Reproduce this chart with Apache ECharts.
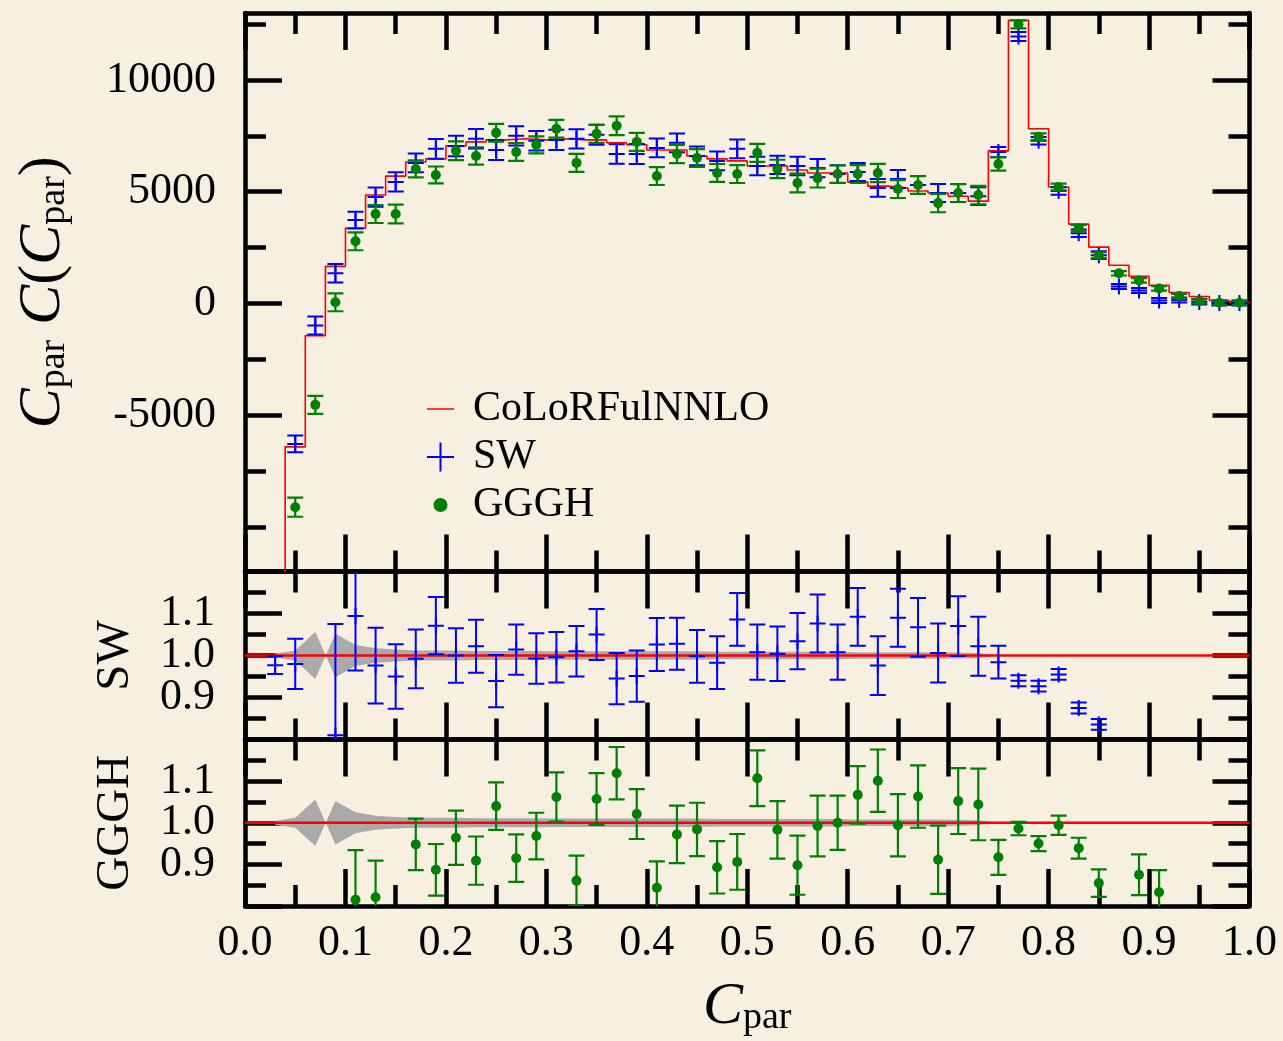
<!DOCTYPE html>
<html><head><meta charset="utf-8">
<script src="https://cdn.jsdelivr.net/npm/echarts@6/dist/echarts.min.js"></script>
<style>html,body{margin:0;padding:0;background:#f7efe0;}#c{width:1283px;height:1041px;}</style>
</head><body><div id="c"></div>
<script>
// ---------- data ----------
const binCenters = [0.03,0.05,0.07,0.09,0.11,0.13,0.15,0.17,0.19,0.21,0.23,0.25,0.27,0.29,0.31,0.33,0.35,0.37,0.39,0.41,0.43,0.45,0.47,0.49,0.51,0.53,0.55,0.57,0.59,0.61,0.63,0.65,0.67,0.69,0.71,0.73,0.75,0.77,0.79,0.81,0.83,0.85,0.87,0.89,0.91,0.93,0.95,0.97,0.99];
const binEdges = [0.02,0.04,0.06,0.08,0.10,0.12,0.14,0.16,0.18,0.20,0.22,0.24,0.26,0.28,0.30,0.32,0.34,0.36,0.38,0.40,0.42,0.44,0.46,0.48,0.50,0.52,0.54,0.56,0.58,0.60,0.62,0.64,0.66,0.68,0.70,0.72,0.74,0.76,0.78,0.80,0.82,0.84,0.86,0.88,0.90,0.92,0.94,0.96,0.98,1.00];
const nnlo = [-16000,-6420,-1440,1660,3370,4850,5700,6330,6470,7050,7230,7320,7370,7320,7370,7320,7320,7190,7100,6870,6870,6600,6470,6380,6150,6150,5970,5840,5840,5430,5250,5170,5030,4940,4800,4580,6830,12670,7820,5210,3550,2520,1710,1210,810,490,310,130,40];
const swVal = [null,-6290,-990,1350,3730,4760,5440,6290,6920,7050,7370,6870,7500,7280,7320,7370,7550,6690,6690,6960,7190,6600,6380,6920,6150,6200,6150,6060,5790,5880,5170,5570,5300,4940,4940,4800,6780,11950,7280,5030,3140,2160,760,580,130,150,60,20,20];
const swErr = [null,375,400,410,375,430,430,420,440,460,435,450,430,435,450,430,450,435,450,420,420,420,420,420,410,410,410,410,400,400,400,400,400,400,400,400,225,200,170,170,170,170,110,110,110,110,110,110,110];
const ggVal = [null,-9120,-4540,50,2780,4000,4000,6020,5750,6830,6600,7640,6780,7100,7820,6290,7590,7950,7230,5700,6690,6510,5840,5790,6740,6020,5390,5610,5790,5790,5840,5120,5300,4490,4940,4850,6240,12490,7460,5210,3370,2160,1350,1030,670,330,100,30,30];
const ggErr = [null,430,400,400,400,400,420,380,380,420,390,400,400,380,400,400,400,420,400,400,410,400,400,400,400,410,420,420,390,400,410,400,400,410,400,410,300,180,150,150,150,130,100,100,100,100,100,100,100];
const swRatio = [0.977,0.980,null,0.81,1.094,0.976,0.950,0.992,1.071,1.000,1.022,0.939,1.014,0.993,0.996,1.010,1.050,0.945,0.951,1.026,1.028,0.998,0.983,1.086,1.008,1.004,1.034,1.076,1.008,1.092,0.976,1.090,1.067,1.006,1.070,1.022,0.984,0.940,0.927,0.955,0.875,0.836,null,null,null,null,null,null,null];
const swRatioErr = [0.021,0.060,null,0.265,0.13,0.09,0.077,0.070,0.068,0.065,0.063,0.062,0.060,0.060,0.060,0.060,0.061,0.061,0.061,0.063,0.062,0.063,0.063,0.063,0.066,0.065,0.067,0.069,0.066,0.069,0.070,0.069,0.070,0.070,0.071,0.070,0.039,0.013,0.013,0.013,0.013,0.013,null,null,null,null,null,null,null];
const ggRatio = [null,null,null,null,0.815,0.821,null,0.948,0.887,0.964,0.909,1.040,0.915,0.968,1.062,0.861,1.057,1.119,1.021,0.844,0.972,0.984,0.893,0.906,1.107,0.983,0.898,0.992,1.000,1.067,1.101,0.994,1.063,0.911,1.052,1.044,0.917,0.986,0.950,0.994,0.939,0.855,null,0.875,0.833,null,null,null,null];
const ggRatioErr = [null,null,null,null,0.119,0.088,null,0.062,0.062,0.065,0.058,0.057,0.057,0.056,0.059,0.060,0.062,0.063,0.060,0.063,0.069,0.064,0.063,0.067,0.067,0.069,0.071,0.073,0.065,0.069,0.075,0.075,0.075,0.082,0.079,0.086,0.042,0.016,0.018,0.023,0.025,0.033,null,0.049,0.053,null,null,null,null];
// NNLO uncertainty band in ratio space: edge A = (N+d)/N, edge B = (N-d)/N
const bandX = [0.03,0.05,0.07,0.09,0.11,0.13,0.15,0.17,0.19,0.21,0.23,0.25,0.27,0.29,0.31,0.33,0.35,0.37,0.39,0.41,0.43,0.45,0.47,0.49,0.51,0.53,0.55,0.57,0.59,0.61,0.63,0.65,0.67,0.69,0.71,0.73,0.75];
const bandA = [0.995,0.988,0.944,1.052,1.025,1.017,1.014,1.012,1.012,1.012,1.011,1.011,1.011,1.011,1.010,1.010,1.010,1.010,1.010,1.010,1.010,1.010,1.009,1.009,1.009,1.009,1.009,1.009,1.009,1.008,1.008,1.008,1.008,1.008,1.007,1.006,1.000];
const bandB = [1.005,1.012,1.056,0.948,0.975,0.983,0.986,0.988,0.988,0.988,0.989,0.989,0.989,0.989,0.990,0.990,0.990,0.990,0.990,0.990,0.990,0.990,0.991,0.991,0.991,0.991,0.991,0.991,0.991,0.992,0.992,0.992,0.992,0.992,0.993,0.994,1.000];
const ratioRef = 1.0;
const mainMajorTicks = [-5000,0,5000,10000];
const mainMinorTicks = [-10000,-7500,-2500,2500,7500,12500];
const seriesNames = ['CoLoRFulNNLO','SW','GGGH'];
const panelNames = ['SW','GGGH'];

// ---------- helpers ----------
const FONT = 'Liberation Serif';
const BLACK = '#000';
const LW = 4.5;
const MAJ = 37, MIN = 21;
const TICKFS = 44;

function rows(vals, errs){
  const r = [];
  binCenters.forEach((x,i)=>{ if(vals[i]!==null && vals[i]!==undefined) r.push([x, vals[i], errs[i]]); });
  return r;
}
const histData = binEdges.map((x,i)=>[x, nnlo[Math.min(i, nnlo.length-1)]]);

function xAx(grid, pos, labels, extra){
  return Object.assign({
    type:'value', gridIndex:grid, position:pos, min:0, max:1, interval:0.1,
    axisLine:{show:true, onZero:false, lineStyle:{color:BLACK, width:LW}},
    axisTick:{show:true, inside:true, length:MAJ, lineStyle:{color:BLACK, width:LW}},
    minorTick:{show:true, splitNumber:2, length:MIN, lineStyle:{color:BLACK, width:LW}},
    axisLabel:{show:labels, margin:15, fontFamily:FONT, fontSize:TICKFS, color:BLACK, formatter:v=>v.toFixed(1)},
    splitLine:{show:false}, minorSplitLine:{show:false}
  }, extra||{});
}
function yMain(pos, major, showLine, extra){
  return Object.assign({
    type:'value', gridIndex:0, position:pos, min:-12000, max:13000,
    axisLine:{show:showLine, onZero:false, lineStyle:{color:BLACK, width:LW}},
    axisTick:{show:true, inside:true, length: major?MAJ:MIN, customValues: major?mainMajorTicks:mainMinorTicks, lineStyle:{color:BLACK, width:LW}},
    axisLabel:{show: major && pos==='left', customValues: mainMajorTicks, margin:29, fontFamily:FONT, fontSize:TICKFS, color:BLACK, formatter:v=>String(v)},
    splitLine:{show:false}
  }, extra||{});
}
function yRatio(grid, pos, extra){
  return Object.assign({
    type:'value', gridIndex:grid, position:pos, min:0.8, max:1.2, interval:0.1,
    axisLine:{show:true, onZero:false, lineStyle:{color:BLACK, width:LW}},
    axisTick:{show:true, inside:true, length:MAJ, lineStyle:{color:BLACK, width:LW}},
    minorTick:{show:true, splitNumber:2, length:MIN, lineStyle:{color:BLACK, width:LW}},
    axisLabel:{show: pos==='left', showMinLabel:false, showMaxLabel:false, margin:30, fontFamily:FONT, fontSize:TICKFS, color:BLACK, formatter:v=>v.toFixed(1)},
    splitLine:{show:false}, minorSplitLine:{show:false}
  }, extra||{});
}

function swRender(params, api){
  const x=api.value(0), y=api.value(1), e=api.value(2);
  const p=api.coord([x,y]), pt=api.coord([x,y+e]), pb=api.coord([x,y-e]);
  const hw=8, vh=8;
  const st={stroke:'#0000ff', lineWidth:2};
  const L=(x1,y1,x2,y2)=>({type:'line', shape:{x1,y1,x2,y2}, style:st});
  return {type:'group', children:[
    L(p[0],pt[1],p[0],pb[1]),
    L(p[0]-hw,pt[1],p[0]+hw,pt[1]),
    L(p[0]-hw,pb[1],p[0]+hw,pb[1]),
    L(p[0]-hw,p[1],p[0]+hw,p[1]),
    L(p[0],p[1]-vh,p[0],p[1]+vh)
  ]};
}
function ggRender(params, api){
  const x=api.value(0), y=api.value(1), e=api.value(2);
  const p=api.coord([x,y]), pt=api.coord([x,y+e]), pb=api.coord([x,y-e]);
  const hw=8;
  const st={stroke:'#008000', lineWidth:2.2};
  const L=(x1,y1,x2,y2)=>({type:'line', shape:{x1,y1,x2,y2}, style:st});
  return {type:'group', children:[
    L(p[0],pt[1],p[0],pb[1]),
    L(p[0]-hw,pt[1],p[0]+hw,pt[1]),
    L(p[0]-hw,pb[1],p[0]+hw,pb[1]),
    {type:'circle', shape:{cx:p[0], cy:p[1], r:5}, style:{fill:'#008000'}}
  ]};
}
function bandRender(params, api){
  if(params.dataIndex!==0) return null;
  const pts=[];
  for(let i=0;i<bandX.length;i++) pts.push(api.coord([bandX[i], bandA[i]]));
  for(let i=bandX.length-1;i>=0;i--) pts.push(api.coord([bandX[i], bandB[i]]));
  return {type:'polygon', shape:{points:pts}, style:{fill:'#aaaaaa'}};
}

const lineIcon = 'path://M0,0h0.01v0.01h-0.01zM0,13.7h27v1.6h-27zM26.99,28.99h0.01v0.01h-0.01z';
const plusIcon = 'path://M12.5,0h2v29h-2zM0,13.5h27v2h-27z';
const dotIcon = 'path://M0,0h0.01v0.01h-0.01zM26.99,28.99h0.01v0.01h-0.01zM20.5,14.5A7,7,0,1,1,6.5,14.5A7,7,0,1,1,20.5,14.5z';

const titleRich = {
  i:{fontFamily:FONT, fontStyle:'italic', fontSize:60, lineHeight:60, color:BLACK},
  r:{fontFamily:FONT, fontSize:60, lineHeight:60, color:BLACK},
  s:{fontFamily:FONT, fontSize:38, lineHeight:30, verticalAlign:'bottom', color:BLACK}
};
const xTitleRich = {
  i:{fontFamily:FONT, fontStyle:'italic', fontSize:60, lineHeight:60, color:BLACK},
  s:{fontFamily:FONT, fontSize:38, lineHeight:36, verticalAlign:'bottom', color:BLACK}
};

const G = [
  {left:245, top:13, width:1004.5, height:558.5},
  {left:245, top:571.5, width:1004.5, height:168},
  {left:245, top:739.5, width:1004.5, height:166.5}
].map(g=>Object.assign(g,{containLabel:false, outerBoundsMode:'none'}));

const option = {
  backgroundColor:'#f7efe0',
  animation:false,
  textStyle:{fontFamily:FONT},
  grid:G,
  xAxis:[
    xAx(0,'bottom',false), xAx(0,'top',false),
    xAx(1,'bottom',false), xAx(1,'top',false),
    xAx(2,'bottom',true,{name:'{i|C}{s|par}', nameLocation:'middle', nameGap:71, nameMoveOverlap:false, nameTextStyle:{rich:xTitleRich}}),
    xAx(2,'top',false)
  ],
  yAxis:[
    yMain('left',true,true,{name:'{i|C}{s|par}{r| }{i|C}{r|(}{i|C}{s|par}{r|)}', nameLocation:'middle', nameGap:172, nameRotate:90, nameMoveOverlap:false, nameTextStyle:{rich:titleRich}}),
    yMain('left',false,false),
    yMain('right',true,true),
    yMain('right',false,false),
    yRatio(1,'left',{name:panelNames[0], nameLocation:'middle', nameGap:106, nameRotate:90, nameMoveOverlap:false, nameTextStyle:{fontFamily:FONT, fontSize:47, lineHeight:47, color:BLACK}}),
    yRatio(1,'right'),
    yRatio(2,'left',{name:panelNames[1], nameLocation:'middle', nameGap:106, nameRotate:90, nameMoveOverlap:false, nameTextStyle:{fontFamily:FONT, fontSize:47, lineHeight:47, color:BLACK}}),
    yRatio(2,'right')
  ],
  legend:{
    orient:'vertical', left:427, top:388, itemWidth:27, itemHeight:29, itemGap:6,
    selectedMode:false, padding:0,
    textStyle:{fontFamily:FONT, fontSize:42, lineHeight:29, color:BLACK, padding:[0,0,0,14]},
    data:[
      {name:seriesNames[0], icon:lineIcon, itemStyle:{color:'#ff0000', borderWidth:0}},
      {name:seriesNames[1], icon:plusIcon, itemStyle:{color:'#0000ff', borderWidth:0}},
      {name:seriesNames[2], icon:dotIcon, itemStyle:{color:'#008000', borderWidth:0}}
    ]
  },
  series:[
    {name:'band-sw', type:'custom', xAxisIndex:2, yAxisIndex:4, renderItem:bandRender, data:[[0.5,1]], clip:true, silent:true, z:1},
    {name:'band-gg', type:'custom', xAxisIndex:4, yAxisIndex:6, renderItem:bandRender, data:[[0.5,1]], clip:true, silent:true, z:1},
    {name:seriesNames[0], type:'line', xAxisIndex:0, yAxisIndex:0, step:'end', data:histData, symbol:'none', clip:true,
      lineStyle:{color:'#ff0000', width:1.6}, itemStyle:{color:'#ff0000'}, z:2},
    {name:'ref-sw', type:'line', xAxisIndex:2, yAxisIndex:4, data:[[0,ratioRef],[1,ratioRef]], symbol:'none', lineStyle:{color:'#ff0000', width:2.5}, z:2, silent:true},
    {name:'ref-gg', type:'line', xAxisIndex:4, yAxisIndex:6, data:[[0,ratioRef],[1,ratioRef]], symbol:'none', lineStyle:{color:'#ff0000', width:2.5}, z:2, silent:true},
    {name:seriesNames[1], type:'custom', xAxisIndex:0, yAxisIndex:0, renderItem:swRender, data:rows(swVal, swErr), clip:true, itemStyle:{color:'#0000ff'}, encode:{x:0,y:1}, z:3},
    {name:seriesNames[2], type:'custom', xAxisIndex:0, yAxisIndex:0, renderItem:ggRender, data:rows(ggVal, ggErr), clip:true, itemStyle:{color:'#008000'}, encode:{x:0,y:1}, z:4},
    {name:'sw-ratio', type:'custom', xAxisIndex:2, yAxisIndex:4, renderItem:swRender, data:rows(swRatio, swRatioErr), clip:true, encode:{x:0,y:1}, z:3},
    {name:'gg-ratio', type:'custom', xAxisIndex:4, yAxisIndex:6, renderItem:ggRender, data:rows(ggRatio, ggRatioErr), clip:true, encode:{x:0,y:1}, z:3}
  ]
};
const chart = echarts.init(document.getElementById('c'));
chart.setOption(option);
</script>
</body></html>
